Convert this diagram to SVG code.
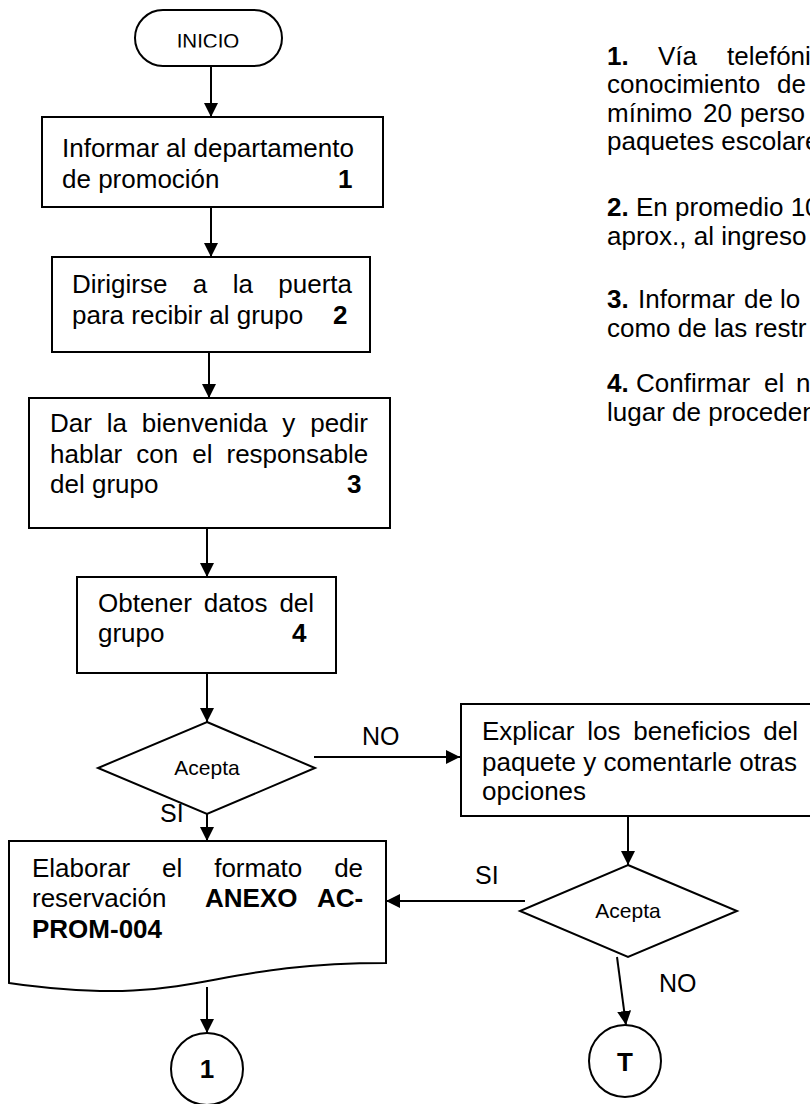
<svg xmlns="http://www.w3.org/2000/svg" width="810" height="1104" viewBox="0 0 810 1104">
<style>
text{font-family:"Liberation Sans",Arial,sans-serif;fill:#000}
.t{font-size:26px}
.b{font-weight:bold}
.lbl{font-size:25px}
.sm{font-size:21px}
.box{fill:#fff;stroke:#000;stroke-width:2}
.ln{fill:none;stroke:#000;stroke-width:2}
</style>
<defs>
<marker id="ah" markerUnits="userSpaceOnUse" markerWidth="14" markerHeight="14" refX="14" refY="7" orient="auto">
<path d="M0,0 L14,7 L0,14 Z" fill="#000"/>
</marker>
<clipPath id="clipInicio"><rect x="0" y="0" width="810" height="47.5"/></clipPath>
</defs>
<rect width="810" height="1104" fill="#fff"/>

<g id="connectors">
<line class="ln" x1="211" y1="66" x2="211" y2="117" marker-end="url(#ah)"/>
<line class="ln" x1="211" y1="207" x2="211" y2="257" marker-end="url(#ah)"/>
<line class="ln" x1="209" y1="352" x2="209" y2="398" marker-end="url(#ah)"/>
<line class="ln" x1="207" y1="528" x2="207" y2="577" marker-end="url(#ah)"/>
<line class="ln" x1="207" y1="673" x2="207" y2="722" marker-end="url(#ah)"/>
<line class="ln" x1="314" y1="757" x2="460" y2="757" marker-end="url(#ah)"/>
<line class="ln" x1="207" y1="814" x2="207" y2="841" marker-end="url(#ah)"/>
<line class="ln" x1="628" y1="816" x2="628" y2="865" marker-end="url(#ah)"/>
<line class="ln" x1="525" y1="901" x2="386" y2="901" marker-end="url(#ah)"/>
<line class="ln" x1="617" y1="957" x2="626" y2="1025" marker-end="url(#ah)"/>
<line class="ln" x1="207" y1="987" x2="207" y2="1033" marker-end="url(#ah)"/>
<text class="lbl" x="362" y="745">NO</text>
<text class="lbl" x="160" y="822">SI</text>
<text class="lbl" x="475" y="884">SI</text>
<text class="lbl" x="659" y="992">NO</text>
</g>

<g id="inicio">
<rect class="box" x="135" y="10" width="147" height="56" rx="28" ry="28"/>
<text x="208" y="48" font-size="20.5" text-anchor="middle" clip-path="url(#clipInicio)">INICIO</text>
</g>

<g id="paso1">
<rect class="box" x="42" y="117" width="341" height="90"/>
<text class="t" x="62" y="157">Informar al departamento</text>
<text class="t" x="62" y="188">de promoción</text>
<text class="t b" x="338" y="188">1</text>
</g>

<g id="paso2">
<rect class="box" x="52" y="257" width="318" height="95"/>
<text class="t" x="72" y="293" word-spacing="18.2">Dirigirse a la puerta</text>
<text class="t" x="72" y="324">para recibir al grupo</text>
<text class="t b" x="333" y="324">2</text>
</g>

<g id="paso3">
<rect class="box" x="29" y="398" width="361" height="130"/>
<text class="t" x="50" y="432" word-spacing="7.6">Dar la bienvenida y pedir</text>
<text class="t" x="50" y="463" word-spacing="6.8">hablar con el responsable</text>
<text class="t" x="50" y="493">del grupo</text>
<text class="t b" x="347" y="493">3</text>
</g>

<g id="paso4">
<rect class="box" x="77" y="577" width="259" height="96"/>
<text class="t" x="98" y="612" word-spacing="4.7">Obtener datos del</text>
<text class="t" x="98" y="642">grupo</text>
<text class="t b" x="292" y="642">4</text>
</g>

<g id="decision1">
<polygon class="box" points="207,722 315,768 207,814 98,768"/>
<text class="sm" x="207" y="775" text-anchor="middle">Acepta</text>
</g>

<g id="explicar">
<rect class="box" x="461" y="704" width="360" height="112"/>
<text class="t" x="482" y="740" word-spacing="5.6">Explicar los beneficios del</text>
<text class="t" x="482" y="771">paquete y comentarle otras</text>
<text class="t" x="482" y="800">opciones</text>
</g>

<g id="decision2">
<polygon class="box" points="628,865 737,911 628,957 520,911"/>
<text class="sm" x="628" y="918" text-anchor="middle">Acepta</text>
</g>

<g id="formato">
<path class="box" d="M9,841 H386 V963 C197.5,963 197.5,1009.3 9,983 Z"/>
<text class="t" x="32" y="877" word-spacing="24.6">Elaborar el formato de</text>
<text class="t" y="907"><tspan x="32">reservación</tspan><tspan class="b" x="205">ANEXO</tspan><tspan class="b" x="317">AC-</tspan></text>
<text class="t b" x="32" y="938">PROM-004</text>
</g>

<g id="conector1">
<circle class="box" cx="207" cy="1069" r="36"/>
<text class="t b" x="207" y="1078" text-anchor="middle">1</text>
</g>

<g id="conectorT">
<circle class="box" cx="625" cy="1061" r="36"/>
<text class="t b" x="625" y="1071" text-anchor="middle">T</text>
</g>

<g id="notas">
<text class="t" y="65"><tspan class="b" x="607">1.</tspan><tspan x="658">Vía</tspan><tspan x="727">telefóni</tspan></text>
<text class="t" y="93"><tspan x="607">conocimiento</tspan><tspan x="777">de</tspan></text>
<text class="t" y="122"><tspan x="607">mínimo</tspan><tspan x="703">20</tspan><tspan x="740">perso</tspan></text>
<text class="t" x="607" y="150">paquetes escolare</text>
<text class="t" y="216"><tspan class="b" x="607">2.</tspan><tspan x="636">En promedio 10</tspan></text>
<text class="t" x="607" y="245">aprox., al ingreso</text>
<text class="t" y="308"><tspan class="b" x="607">3.</tspan><tspan x="638">Informar</tspan><tspan x="744">de</tspan><tspan x="780">lo</tspan></text>
<text class="t" x="607" y="337">como de las restr</text>
<text class="t" y="392"><tspan class="b" x="607">4.</tspan><tspan x="636">Confirmar</tspan><tspan x="764">el</tspan><tspan x="796">n</tspan></text>
<text class="t" x="607" y="421">lugar de proceden</text>
</g>
</svg>
